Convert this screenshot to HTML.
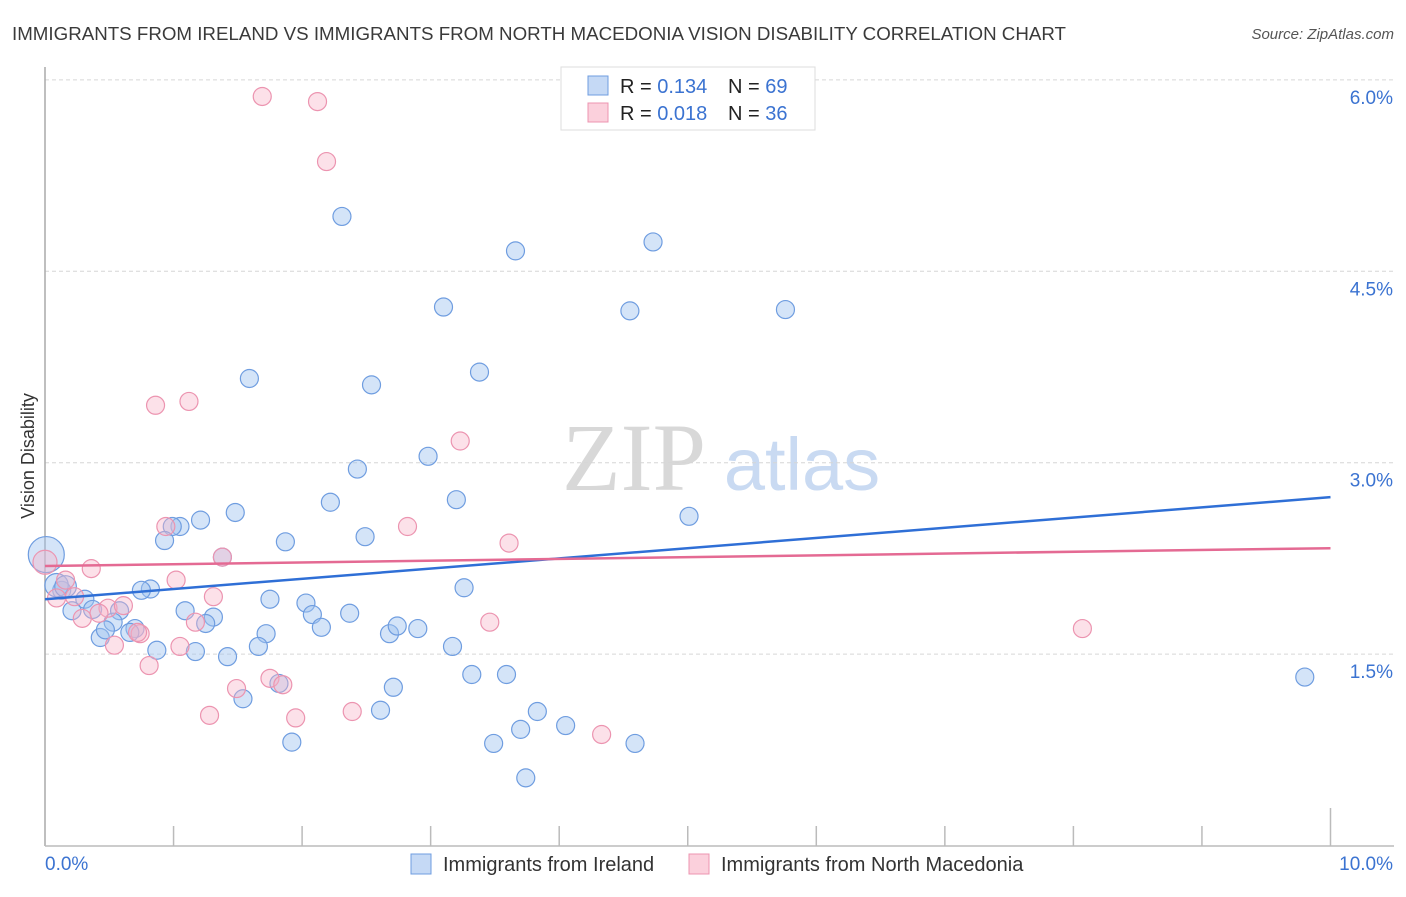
<!DOCTYPE html>
<html><head><meta charset="utf-8"><style>
body{margin:0;background:#fff;font-family:"Liberation Sans",sans-serif;}
</style></head><body>
<svg width="1406" height="892" xmlns="http://www.w3.org/2000/svg" font-family="Liberation Sans, sans-serif">
<text x="12" y="40" font-size="18" fill="#3a3a3a" textLength="1054" lengthAdjust="spacingAndGlyphs">IMMIGRANTS FROM IRELAND VS IMMIGRANTS FROM NORTH MACEDONIA VISION DISABILITY CORRELATION CHART</text>
<text x="1394" y="39" font-size="15" fill="#555" font-style="italic" text-anchor="end">Source: ZipAtlas.com</text>
<g>
<text x="634" y="490" font-size="96" fill="#d8d8d8" font-family="Liberation Serif, serif" text-anchor="middle">ZIP</text>
<text x="802" y="490" font-size="74" fill="#c9daf2" text-anchor="middle">atlas</text>
</g>
<g id="grid"></g>
<g id="axes"></g>
<text transform="translate(34,456) rotate(-90)" font-size="18" fill="#333" text-anchor="middle">Vision Disability</text>
<g id="pts"></g>
<g id="trend"></g>
<g>
<rect x="561" y="67" width="254" height="63" fill="#fff" stroke="#ddd"/>
<rect x="588" y="76" width="20" height="19" fill="#c5d9f5" stroke="#6f9de0"/>
<rect x="588" y="103" width="20" height="19" fill="#fbd0dc" stroke="#ec94b0"/>
<text x="620" y="93" font-size="20" fill="#222">R = <tspan fill="#3b73d1">0.134</tspan></text>
<text x="728" y="93" font-size="20" fill="#222">N = <tspan fill="#3b73d1">69</tspan></text>
<text x="620" y="120" font-size="20" fill="#222">R = <tspan fill="#3b73d1">0.018</tspan></text>
<text x="728" y="120" font-size="20" fill="#222">N = <tspan fill="#3b73d1">36</tspan></text>
</g>
<g>
<rect x="411" y="854" width="20" height="20" fill="#c5d9f5" stroke="#6f9de0"/>
<text x="443" y="871" font-size="20" fill="#333">Immigrants from Ireland</text>
<rect x="689" y="854" width="20" height="20" fill="#fbd0dc" stroke="#ec94b0"/>
<text x="721" y="871" font-size="20" fill="#333">Immigrants from North Macedonia</text>
</g>
</svg>
<script>
const yTicks=[1.5,3.0,4.5,6.0];
const yTickLabels=["1.5%","3.0%","4.5%","6.0%"];
const xTickLabels=["0.0%","10.0%"];
const irelandX=[2.31,3.66,4.73,3.10,4.55,5.76,1.59,2.54,3.38,2.98,2.43,3.20,2.22,1.48,1.21,1.05,0.99,0.93,2.49,1.87,1.38,5.01,3.26,0.82,0.75,0.31,0.13,0.21,0.37,0.58,1.09,1.31,1.25,0.53,1.75,2.03,2.08,2.15,2.37,0.70,0.66,0.43,0.47,1.72,1.66,1.17,0.87,1.42,2.68,2.74,2.90,3.17,3.32,3.59,1.82,2.71,1.54,2.61,3.83,3.70,4.05,3.49,4.59,1.92,3.74,9.80,0.09,0.16,0.01];
const irelandY=[4.93,4.66,4.73,4.22,4.19,4.20,3.66,3.61,3.71,3.05,2.95,2.71,2.69,2.61,2.55,2.50,2.50,2.39,2.42,2.38,2.26,2.58,2.02,2.01,2.00,1.93,2.00,1.84,1.85,1.84,1.84,1.79,1.74,1.75,1.93,1.90,1.81,1.71,1.82,1.70,1.67,1.63,1.69,1.66,1.56,1.52,1.53,1.48,1.66,1.72,1.70,1.56,1.34,1.34,1.27,1.24,1.15,1.06,1.05,0.91,0.94,0.80,0.80,0.81,0.53,1.32,2.04,2.03,2.28];
const irelandSize=[1,1,1,1,1,1,1,1,1,1,1,1,1,1,1,1,1,1,1,1,1,1,1,1,1,1,1,1,1,1,1,1,1,1,1,1,1,1,1,1,1,1,1,1,1,1,1,1,1,1,1,1,1,1,1,1,1,1,1,1,1,1,1,1,1,1,1.3,1.2,2];
const macedoniaX=[1.69,2.12,2.19,0.86,1.12,3.23,0.94,2.82,3.61,1.38,0.36,1.02,0.16,1.31,0.09,0.23,0.49,0.61,0.42,0.29,0.74,0.54,1.05,1.17,0.81,3.46,8.07,1.75,1.85,1.49,1.28,1.95,2.39,4.33,0.00,0.72];
const macedoniaY=[5.87,5.83,5.36,3.45,3.48,3.17,2.50,2.50,2.37,2.26,2.17,2.08,2.08,1.95,1.94,1.95,1.86,1.88,1.82,1.78,1.66,1.57,1.56,1.75,1.41,1.75,1.70,1.31,1.26,1.23,1.02,1.00,1.05,0.87,2.22,1.67];
const trendIreland=[1.93,2.73];
const trendMacedonia=[2.19,2.33];
const NS="http://www.w3.org/2000/svg";
const X0=45,X1=1330.5,Y0=845.5,PPU=127.6;
function xs(v){return X0+(X1-X0)*v/10;}
function ys(v){return Y0-v*PPU;}
function mk(t,a,p){const e=document.createElementNS(NS,t);for(const k in a)e.setAttribute(k,a[k]);p.appendChild(e);return e;}
const grid=document.getElementById('grid'),axes=document.getElementById('axes');
yTicks.forEach((t,i)=>{
 const l=mk('line',{x1:45,x2:1394,y1:ys(t),y2:ys(t),stroke:'#d6d6d6','stroke-dasharray':'4,3'},grid);
 
 
 const tx=mk('text',{x:1393,y:ys(t)+24,'font-size':19,fill:'#3b73d1','text-anchor':'end'},grid);
 tx.textContent=yTickLabels[i];
 
 
});
mk('line',{x1:45,x2:45,y1:67,y2:846,stroke:'#aaa','stroke-width':1.5},axes);
mk('line',{x1:45,x2:1394,y1:846,y2:846,stroke:'#bbb','stroke-width':1.5},axes);
for(let k=1;k<=10;k++){
 const t=mk('line',{x1:xs(k),x2:xs(k),y1:k==10?808:826,y2:846,stroke:'#bbb','stroke-width':1.5},axes);
 
 
}
const xl0=mk('text',{x:45,y:870,'font-size':19,fill:'#3b73d1'},axes);xl0.textContent=xTickLabels[0];


const xl1=mk('text',{x:1393,y:870,'font-size':19,fill:'#3b73d1','text-anchor':'end'},axes);xl1.textContent=xTickLabels[1];


const pts=document.getElementById('pts');
irelandX.forEach((v,i)=>{
 const c=mk('circle',{cx:xs(v),cy:ys(irelandY[i]),r:9*irelandSize[i],fill:'rgba(160,195,240,0.45)',stroke:'#6f9de0','stroke-width':1.2},pts);
 
 
});
macedoniaX.forEach((v,i)=>{
 const c=mk('circle',{cx:xs(v),cy:ys(macedoniaY[i]),r:i==34?12:9,fill:'rgba(248,180,200,0.4)',stroke:'#ec94b0','stroke-width':1.2},pts);
 
 
});
const tr=document.getElementById('trend');
const t1=mk('line',{x1:xs(0),x2:xs(10),y1:ys(trendIreland[0]),y2:ys(trendIreland[1]),stroke:'#2f6fd6','stroke-width':2.5},tr);


const t2=mk('line',{x1:xs(0),x2:xs(10),y1:ys(trendMacedonia[0]),y2:ys(trendMacedonia[1]),stroke:'#e46a93','stroke-width':2.5},tr);


</script>
</body></html>
